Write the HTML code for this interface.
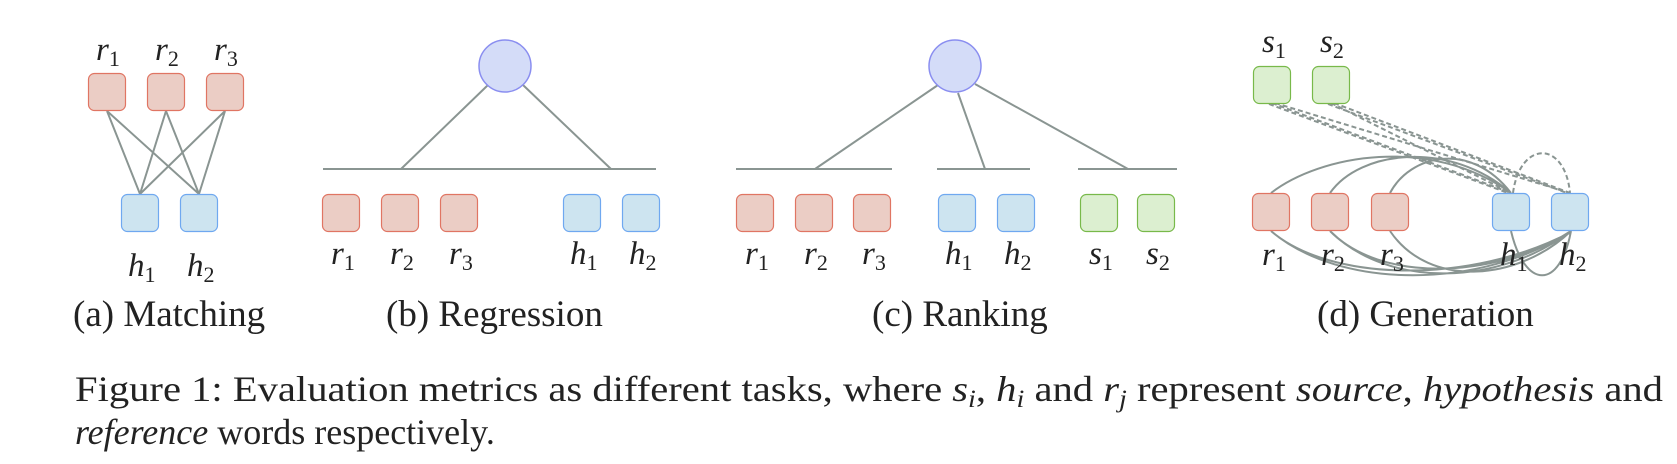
<!DOCTYPE html>
<html><head><meta charset="utf-8"><style>
html,body{margin:0;padding:0;background:#fff;}
svg{display:block;}
text{font-family:"Liberation Serif",serif;fill:#222;}
.l{font-style:italic;font-size:33px;}
.c{font-size:37px;}
.f{font-size:36px;}
</style></head><body>
<svg width="1677" height="464" viewBox="0 0 1677 464" xmlns="http://www.w3.org/2000/svg">
<defs>
<g id="R"><rect x="0.5" y="0.5" width="37" height="37" rx="6" fill="#ebcdc5" stroke="#e07563" stroke-width="1.2"/></g>
<g id="H"><rect x="0.5" y="0.5" width="37" height="37" rx="6" fill="#cde4f0" stroke="#6fa8f0" stroke-width="1.2"/></g>
<g id="S"><rect x="0.5" y="0.5" width="37" height="37" rx="6" fill="#dcefd0" stroke="#78b94a" stroke-width="1.2"/></g>
</defs>
<g stroke="#8a9592" stroke-width="2" fill="none">
<path d="M107 111L140 194M107 111L199 194M166 111L140 194M166 111L199 194M225 111L140 194M225 111L199 194"/>
<path d="M323 169H656M488 85L401 169M523 85L611 169"/>
<path d="M736 169H892M937 169H1030M1078 169H1177M938 85L815 169M958 93L985 169M975 84L1128 169"/>
<path d="M1271 193C1320 155 1430 135 1511 193M1330 193C1360 150 1450 140 1511 193M1390 193C1410 155 1470 140 1511 193"/>
<path d="M1271 231C1340 290 1480 290 1571 231M1330 231C1390 290 1500 285 1571 231M1390 231C1430 290 1520 280 1571 231M1271 231C1330 282 1470 285 1571 232M1330 231C1380 282 1490 280 1571 232M1511 231C1525 290 1560 290 1571 231"/>
</g>
<g stroke="#8a9592" stroke-width="2" fill="none" stroke-dasharray="5 3">
<path d="M1272 103L1511 193M1275 103L1570 193M1331 103L1511 193M1334 103L1570 193M1269 104L1508 193M1328 104L1567 193M1513 193C1520 140 1565 140 1570 193"/>
</g>
<use href="#R" x="88" y="73"/><use href="#R" x="147" y="73"/><use href="#R" x="206" y="73"/>
<use href="#H" x="121" y="194"/><use href="#H" x="180" y="194"/>
<circle cx="505" cy="66" r="26" fill="#d4dcf8" stroke="#8a8ef0" stroke-width="1.5"/>
<use href="#R" x="322" y="194"/><use href="#R" x="381" y="194"/><use href="#R" x="440" y="194"/>
<use href="#H" x="563" y="194"/><use href="#H" x="622" y="194"/>
<circle cx="955" cy="66" r="26" fill="#d4dcf8" stroke="#8a8ef0" stroke-width="1.5"/>
<use href="#R" x="736" y="194"/><use href="#R" x="795" y="194"/><use href="#R" x="853" y="194"/>
<use href="#H" x="938" y="194"/><use href="#H" x="997" y="194"/>
<use href="#S" x="1080" y="194"/><use href="#S" x="1137" y="194"/>
<use href="#S" x="1253" y="66"/><use href="#S" x="1312" y="66"/>
<use href="#R" x="1252" y="193"/><use href="#R" x="1311" y="193"/><use href="#R" x="1371" y="193"/>
<use href="#H" x="1492" y="193"/><use href="#H" x="1551" y="193"/>
<g class="l">
<text x="96" y="60">r<tspan font-style="normal" font-size="22" dy="6">1</tspan></text>
<text x="155" y="60">r<tspan font-style="normal" font-size="22" dy="6">2</tspan></text>
<text x="214" y="60">r<tspan font-style="normal" font-size="22" dy="6">3</tspan></text>
<text x="128" y="276">h<tspan font-style="normal" font-size="22" dy="6">1</tspan></text>
<text x="187" y="276">h<tspan font-style="normal" font-size="22" dy="6">2</tspan></text>
<text x="331" y="264">r<tspan font-style="normal" font-size="22" dy="6">1</tspan></text>
<text x="390" y="264">r<tspan font-style="normal" font-size="22" dy="6">2</tspan></text>
<text x="449" y="264">r<tspan font-style="normal" font-size="22" dy="6">3</tspan></text>
<text x="570" y="264">h<tspan font-style="normal" font-size="22" dy="6">1</tspan></text>
<text x="629" y="264">h<tspan font-style="normal" font-size="22" dy="6">2</tspan></text>
<text x="745" y="264">r<tspan font-style="normal" font-size="22" dy="6">1</tspan></text>
<text x="804" y="264">r<tspan font-style="normal" font-size="22" dy="6">2</tspan></text>
<text x="862" y="264">r<tspan font-style="normal" font-size="22" dy="6">3</tspan></text>
<text x="945" y="264">h<tspan font-style="normal" font-size="22" dy="6">1</tspan></text>
<text x="1004" y="264">h<tspan font-style="normal" font-size="22" dy="6">2</tspan></text>
<text x="1089" y="264">s<tspan font-style="normal" font-size="22" dy="6">1</tspan></text>
<text x="1146" y="264">s<tspan font-style="normal" font-size="22" dy="6">2</tspan></text>
<text x="1262" y="52">s<tspan font-style="normal" font-size="22" dy="6">1</tspan></text>
<text x="1320" y="52">s<tspan font-style="normal" font-size="22" dy="6">2</tspan></text>
<text x="1262" y="265">r<tspan font-style="normal" font-size="22" dy="6">1</tspan></text>
<text x="1321" y="265">r<tspan font-style="normal" font-size="22" dy="6">2</tspan></text>
<text x="1380" y="265">r<tspan font-style="normal" font-size="22" dy="6">3</tspan></text>
<text x="1500" y="265">h<tspan font-style="normal" font-size="22" dy="6">1</tspan></text>
<text x="1559" y="265">h<tspan font-style="normal" font-size="22" dy="6">2</tspan></text>
</g>
<g class="c">
<text x="73" y="326">(a) Matching</text>
<text x="386" y="326">(b) Regression</text>
<text x="872" y="326">(c) Ranking</text>
<text x="1317" y="326">(d) Generation</text>
</g>
<text class="f" x="75" y="401" textLength="1588" lengthAdjust="spacingAndGlyphs">Figure 1: Evaluation metrics as different tasks, where <tspan font-style="italic">s<tspan font-size="25" dy="6">i</tspan></tspan><tspan dy="-6">, </tspan><tspan font-style="italic">h<tspan font-size="25" dy="6">i</tspan></tspan><tspan dy="-6"> and </tspan><tspan font-style="italic">r<tspan font-size="25" dy="6">j</tspan></tspan><tspan dy="-6"> represent </tspan><tspan font-style="italic">source</tspan>, <tspan font-style="italic">hypothesis</tspan> and</text>
<text class="f" x="75" y="444"><tspan font-style="italic">reference</tspan> words respectively.</text>
</svg>
</body></html>
